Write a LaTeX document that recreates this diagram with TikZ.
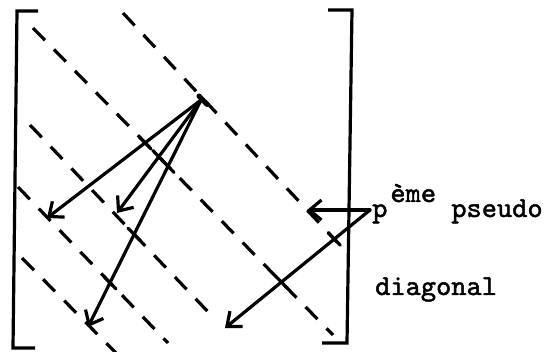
\documentclass[tikz,border=0pt]{standalone}
\usepackage{fontspec}
\newfontfamily\typewriter{lmmono10-regular.otf}[FakeBold=1.6]
\usetikzlibrary{arrows.meta}

\begin{document}
\begin{tikzpicture}[
  x=1pt, y=-1pt,
  bracket/.style={line width=3.2pt, line join=miter},
  dline/.style={line width=3.2pt, dash pattern=on 17pt off 13pt},
  arr/.style={line width=3.2pt, line cap=round,
    -{Straight Barb[length=12pt,width=20pt]}},
  crossmark/.style={line width=3.2pt, line cap=round},
  txt/.style={font=\fontsize{29}{34}\selectfont\typewriter,
    inner sep=0pt, anchor=base west}
]
\useasboundingbox (0,0) rectangle (551,352);

\draw[bracket] (38,11) -- (17,11) -- (13,348) -- (35,348);
\draw[bracket] (328,10) -- (352,10) -- (347,343) -- (322,343);

\draw[dline] (123,13) -- (337,242);
\draw[dline] (33,28) -- (333,335);
\draw[dline] (30,125) -- (212,316);
\draw[dline] (18,187) -- (168,343);
\draw[dline] (22,258) -- (116,353);

\coordinate (apex) at (201,100);
\coordinate (e1) at (47,218);
\coordinate (e2) at (117,213);
\coordinate (e3) at (88,327);
\coordinate (src) at (370,210);
\coordinate (e4) at (307,210);
\coordinate (e5) at (225,328);

\draw[line width=5pt, line cap=round] (apex) ++(-2,-4) -- ++(8,8.5);

\draw[arr] (apex) -- (e1);
\draw[arr] (apex) -- (e2);
\draw[arr] (apex) -- (e3);
\draw[arr] (src) -- (e4);
\draw[arr] (src) -- (e5);

\path (apex) -- (e1) coordinate[pos=0.363] (x1);
\path (apex) -- (e2) coordinate[pos=0.502] (x2);
\path (apex) -- (e3) coordinate[pos=0.292] (x3)
                     coordinate[pos=0.592] (x4)
                     coordinate[pos=0.805] (x5);
\path (src) -- (e5) coordinate[pos=0.246] (x6)
                    coordinate[pos=0.611] (x7);
\foreach \c in {x1,x2,x3,x4,x5,x6,x7}
  \draw[crossmark] (\c) ++(-6,-6.2) -- ++(12,12.4);

\node[txt] (lbl) at (372,217) {p\hspace{3pt}\raisebox{15pt}{ème} pseudo};
\node[txt] (diag) at (375,295) {diagonal};
\end{tikzpicture}
\end{document}
